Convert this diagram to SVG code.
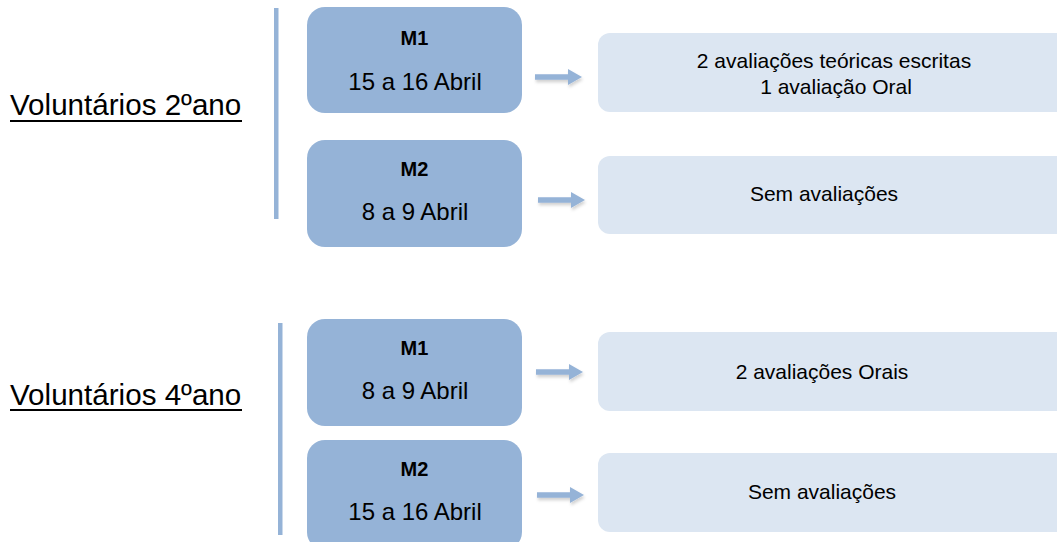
<svg xmlns="http://www.w3.org/2000/svg" width="1057" height="542" viewBox="0 0 1057 542">
<style>
.dark{fill:#95B3D7;}
.light{fill:#DCE6F2;}
.bar{fill:#95B3D7;}
.t{font-family:"Liberation Sans",Arial,sans-serif;fill:#000;text-anchor:middle;}
.m{font-size:20px;font-weight:bold;}
.d{font-size:24px;}
.r{font-size:21px;}
.lab{font-family:"Liberation Sans",Arial,sans-serif;font-size:29.6px;fill:#000;}
.ul{stroke:#000;stroke-width:2.2;}
.arr{fill:#95B3D7;}
</style>
<defs>
<filter id="sh" x="-20%" y="-50%" width="140%" height="250%">
<feDropShadow dx="1" dy="2.5" stdDeviation="1.5" flood-color="#000" flood-opacity="0.18"/>
</filter>
<path id="arrow" d="M0,-2.7 H33 V-8 L47,0 L33,8 V2.7 H0 Z"/>
</defs>
<rect width="1057" height="542" fill="#fff"/>

<g id="label-2ano">
<text class="lab" x="10" y="115">Voluntários 2ºano</text>
<line class="ul" x1="10" y1="121" x2="242" y2="121"/>
</g>
<g id="label-4ano">
<text class="lab" x="10" y="405">Voluntários 4ºano</text>
<line class="ul" x1="10" y1="410" x2="242" y2="410"/>
</g>

<g id="bar-2ano"><rect class="bar" x="274" y="8" width="4.5" height="211"/></g>
<g id="bar-4ano"><rect class="bar" x="278" y="323" width="4.5" height="212"/></g>

<g id="node-2-m1">
<rect class="dark" x="307" y="7" width="215" height="106" rx="18"/>
<text class="t m" x="414.5" y="45">M1</text>
<text class="t d" x="415" y="90">15 a 16 Abril</text>
</g>
<g id="node-2-m2">
<rect class="dark" x="307" y="140" width="215" height="107" rx="18"/>
<text class="t m" x="414.5" y="176">M2</text>
<text class="t d" x="415" y="220">8 a 9 Abril</text>
</g>
<g id="node-4-m1">
<rect class="dark" x="307" y="319" width="215" height="107" rx="18"/>
<text class="t m" x="414.5" y="355">M1</text>
<text class="t d" x="415" y="399">8 a 9 Abril</text>
</g>
<g id="node-4-m2">
<rect class="dark" x="307" y="440" width="215" height="110" rx="18"/>
<text class="t m" x="414.5" y="476">M2</text>
<text class="t d" x="415" y="520">15 a 16 Abril</text>
</g>

<g id="result-2-m1">
<rect class="light" x="598" y="33" width="480" height="79" rx="12"/>
<text class="t r" x="834" y="68">2 avaliações teóricas escritas</text>
<text class="t r" x="836" y="94">1 avaliação Oral</text>
</g>
<g id="result-2-m2">
<rect class="light" x="598" y="156" width="480" height="78" rx="12"/>
<text class="t r" x="824" y="201">Sem avaliações</text>
</g>
<g id="result-4-m1">
<rect class="light" x="598" y="332" width="480" height="79" rx="12"/>
<text class="t r" x="822" y="379">2 avaliações Orais</text>
</g>
<g id="result-4-m2">
<rect class="light" x="598" y="453" width="480" height="79" rx="12"/>
<text class="t r" x="822" y="499">Sem avaliações</text>
</g>

<g id="connectors" class="arr" filter="url(#sh)">
<use href="#arrow" x="535" y="77"/>
<use href="#arrow" x="538" y="200"/>
<use href="#arrow" x="536" y="372"/>
<use href="#arrow" x="537" y="495"/>
</g>
</svg>
